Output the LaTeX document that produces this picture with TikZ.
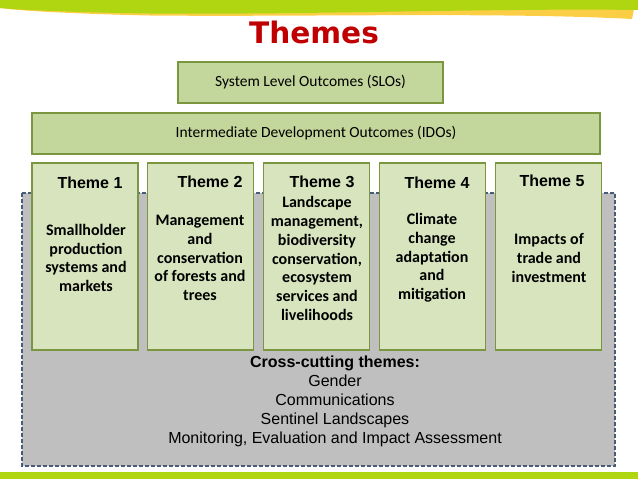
\documentclass[tikz,border=0pt]{standalone}
\usepackage{fontspec}
\setmainfont{Carlito}
\newfontfamily\arialfont{Liberation Sans}
\newfontfamily\titlefont{DejaVu Sans}
\usepackage{xcolor}
\usetikzlibrary{positioning}
\definecolor{bandgreen}{RGB}{176,214,18}
\definecolor{bandyellow}{RGB}{252,206,70}
\definecolor{titlered}{RGB}{192,0,0}
\definecolor{outfill}{RGB}{195,214,155}
\definecolor{themefill}{RGB}{215,228,189}
\definecolor{boxline}{RGB}{122,150,62}
\definecolor{greyfill}{RGB}{191,191,191}
\definecolor{dashline}{RGB}{72,92,122}

\begin{document}
\begin{tikzpicture}[x=1pt, y=-1pt, node distance=8.5pt,
  outbox/.style={draw=boxline, fill=outfill, line width=1.3pt, minimum height=41pt, inner sep=0pt, font=\fontsize{15.5}{18}\selectfont},
  themebox/.style={draw=boxline, fill=themefill, line width=1.3pt, minimum width=106pt, minimum height=187pt, inner sep=0pt},
  themehead/.style={anchor=center, font=\arialfont\bfseries\fontsize{16}{19}\selectfont},
  themetext/.style={align=center, inner sep=0pt, font=\bfseries\fontsize{16}{18.7}\selectfont}]
\useasboundingbox (0,0) rectangle (638,479);
% bands at top and bottom
\fill[bandyellow] (0,8) .. controls (20,11) and (80,14) .. (150,15.5) .. controls (300,17) and (500,12) .. (632,19) -- (634,9) -- cycle;
\fill[bandgreen] (0,0) -- (638,0) -- (638,10) .. controls (500,8) and (300,15) .. (150,13.5) .. controls (80,12.5) and (20,10) .. (0,8) -- cycle;
\fill[bandgreen] (0,472) rectangle (638,479);
\node[font=\titlefont\bfseries\fontsize{29.6}{32}\selectfont, text=titlered, anchor=base] (title) at (314,43) {Themes};
% outcome boxes
\node[outbox, minimum width=265pt] (slo) at (310.5,82.5) {System Level Outcomes (SLOs)};
\node[outbox, minimum width=568pt] (ido) at (316,133.5) {Intermediate Development Outcomes (IDOs)};
% cross-cutting area
\filldraw[fill=greyfill, draw=dashline, line width=1.2pt, dash pattern=on 4pt off 2pt] (22,193) rectangle (615,466);
\node[align=center, inner sep=0pt, font=\arialfont\fontsize{16}{19}\selectfont] (cross) at (335,401.5)
  {\textbf{Cross-cutting themes:}\\Gender\\Communications\\Sentinel Landscapes\\Monitoring, Evaluation and Impact Assessment};
% theme boxes
\node[themebox] (t1) at (85,256.5) {};
\node[themebox, right=of t1] (t2) {};
\node[themebox, right=of t2] (t3) {};
\node[themebox, right=of t3] (t4) {};
\node[themebox, right=of t4] (t5) {};
\node[themehead] (h1) at (90,183) {Theme 1};
\node[themehead] (h2) at (210,182) {Theme 2};
\node[themehead] (h3) at (322,182) {Theme 3};
\node[themehead] (h4) at (437,183) {Theme 4};
\node[themehead] (h5) at (552,181) {Theme 5};
\node[themetext] (b1) at (86,258) {Smallholder\\production\\systems and\\markets};
\node[themetext] (b2) at (200,258) {Management\\and\\conservation\\of forests and\\trees};
\node[themetext] (b3) at (317,258.5) {Landscape\\management,\\biodiversity\\conservation,\\ecosystem\\services and\\livelihoods};
\node[themetext] (b4) at (432,258) {Climate\\change\\adaptation\\and\\mitigation};
\node[themetext] (b5) at (549,258) {Impacts of\\trade and\\investment};
\end{tikzpicture}
\end{document}
